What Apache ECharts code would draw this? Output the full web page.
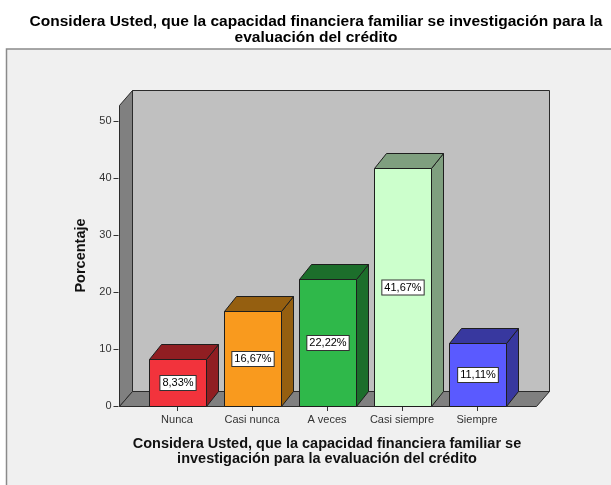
<!DOCTYPE html>
<html>
<head>
<meta charset="utf-8">
<script src="https://cdn.jsdelivr.net/npm/echarts@6/dist/echarts.min.js"></script>
<style>
  html, body { margin: 0; padding: 0; background: #ffffff; }
  #chart { width: 611px; height: 485px; }
</style>
</head>
<body>
<div id="chart"></div>
<script>
// datos
const categories = ['Nunca', 'Casi nunca', 'A veces', 'Casi siempre', 'Siempre'];
const percentages = [8.33, 16.67, 22.22, 41.67, 11.11];
const yTicks = [0, 10, 20, 30, 40, 50];
const yMax = 52.8;

const frontColors = ['#f2333c', '#f99a1e', '#2fb84a', '#ccffcc', '#5a5aff'];
const darkColors = ['#901e22', '#955f10', '#1c6e2b', '#7f9f7f', '#38389f'];

const FONT = '"Liberation Sans", Arial, sans-serif';
const DX = 12, DY = -15;      // profundidad 3D
const PAD = 21;               // margen del suelo fuera de la rejilla

const chart = echarts.init(document.getElementById('chart'));

function px(v) { return Math.round(v) + 0.5; }

function renderWalls(params, api) {
  const cs = params.coordSys;
  const x0 = px(cs.x - PAD), x1 = px(cs.x + cs.width + PAD);
  const yb = px(api.coord([0, 0])[1]);
  const yt = px(cs.y);
  const dx = DX + 1;
  const line = { stroke: '#2b2b2b', lineWidth: 1 };
  return {
    type: 'group',
    children: [
      { type: 'rect', shape: { x: x0 + dx, y: yt + DY, width: x1 - x0, height: yb - yt },
        style: Object.assign({ fill: '#c0c0c0' }, line) },
      { type: 'polygon', shape: { points: [[x0, yt], [x0 + dx, yt + DY], [x0 + dx, yb + DY], [x0, yb]] },
        style: Object.assign({ fill: '#808080' }, line) },
      { type: 'polygon', shape: { points: [[x0, yb], [x0 + dx, yb + DY], [x1 + dx, yb + DY], [x1, yb]] },
        style: Object.assign({ fill: '#808080' }, line) }
    ]
  };
}

function renderBar(params, api) {
  const i = params.dataIndex;
  const val = api.value(1);
  const top = api.coord([api.value(0), val]);
  const base = api.coord([api.value(0), 0]);
  const w = Math.round(api.size([1, 0])[0] * 0.76);
  const x0 = px(top[0] - w / 2), x1 = x0 + w;
  const y0 = px(base[1]), y1 = px(top[1]);
  const line = { stroke: '#1e1e1e', lineWidth: 1 };
  const label = val.toFixed(2).replace('.', ',') + '%';
  return {
    type: 'group',
    children: [
      { type: 'polygon', shape: { points: [[x1, y0], [x1 + DX, y0 + DY], [x1 + DX, y1 + DY], [x1, y1]] },
        style: Object.assign({ fill: darkColors[i] }, line) },
      { type: 'polygon', shape: { points: [[x0, y1], [x0 + DX, y1 + DY], [x1 + DX, y1 + DY], [x1, y1]] },
        style: Object.assign({ fill: darkColors[i] }, line) },
      { type: 'rect', shape: { x: x0, y: y1, width: w, height: y0 - y1 },
        style: Object.assign({ fill: frontColors[i] }, line) },
      { type: 'text', z2: 10,
        style: {
          text: label, x: (x0 + x1) / 2, y: (y0 + y1) / 2,
          align: 'center', verticalAlign: 'middle',
          fill: '#000', fontSize: 11, fontFamily: FONT,
          backgroundColor: '#ffffff', borderColor: '#333333', borderWidth: 1,
          padding: [2, 2, 1, 2]
        } }
    ]
  };
}

const option = {
  animation: false,
  backgroundColor: '#ffffff',
  textStyle: { fontFamily: FONT },
  graphic: [{
    type: 'rect', z: -10, silent: true,
    shape: { x: 6.5, y: 49, width: 700, height: 500 },
    style: { fill: '#f0f0f0', stroke: '#8a8a8a', lineWidth: 1.5 }
  }],
  title: {
    text: 'Considera Usted, que la capacidad financiera familiar se investigación para la\nevaluación del crédito',
    left: 311,
    textAlign: 'center',
    top: 9,
    textStyle: { fontFamily: FONT, fontSize: 15.5, fontWeight: 'bold', color: '#000', lineHeight: 16 }
  },
  grid: { left: 139.5, right: 96.5, top: 105, bottom: 79 },
  xAxis: {
    type: 'category',
    data: categories,
    axisLine: { show: false },
    axisTick: { show: true, alignWithLabel: true, interval: 0, length: 5, lineStyle: { color: '#333' } },
    axisLabel: { interval: 0, margin: 8, fontSize: 11, color: '#333', fontFamily: FONT },
    name: 'Considera Usted, que la capacidad financiera familiar se\ninvestigación para la evaluación del crédito',
    nameLocation: 'middle',
    nameGap: 30,
    nameTextStyle: { fontFamily: FONT, fontSize: 14.5, fontWeight: 'bold', color: '#111', lineHeight: 15 }
  },
  yAxis: {
    type: 'value',
    min: 0,
    max: yMax,
    interval: 10,
    offset: PAD,
    splitLine: { show: false },
    axisLine: { show: false },
    axisTick: { show: true, length: 5, customValues: yTicks, lineStyle: { color: '#333' } },
    axisLabel: { margin: 7, fontSize: 11, color: '#333', fontFamily: FONT, customValues: yTicks },
    name: 'Porcentaje',
    nameLocation: 'middle',
    nameGap: 27,
    nameTextStyle: { fontFamily: FONT, fontSize: 14.5, fontWeight: 'bold', color: '#111' }
  },
  series: [
    {
      type: 'custom', z: 1, silent: true,
      renderItem: renderWalls,
      data: [[0, 0]]
    },
    {
      type: 'custom', z: 2,
      renderItem: renderBar,
      encode: { x: 0, y: 1 },
      data: categories.map((c, i) => [i, percentages[i]])
    }
  ]
};

chart.setOption(option);
</script>
</body>
</html>
